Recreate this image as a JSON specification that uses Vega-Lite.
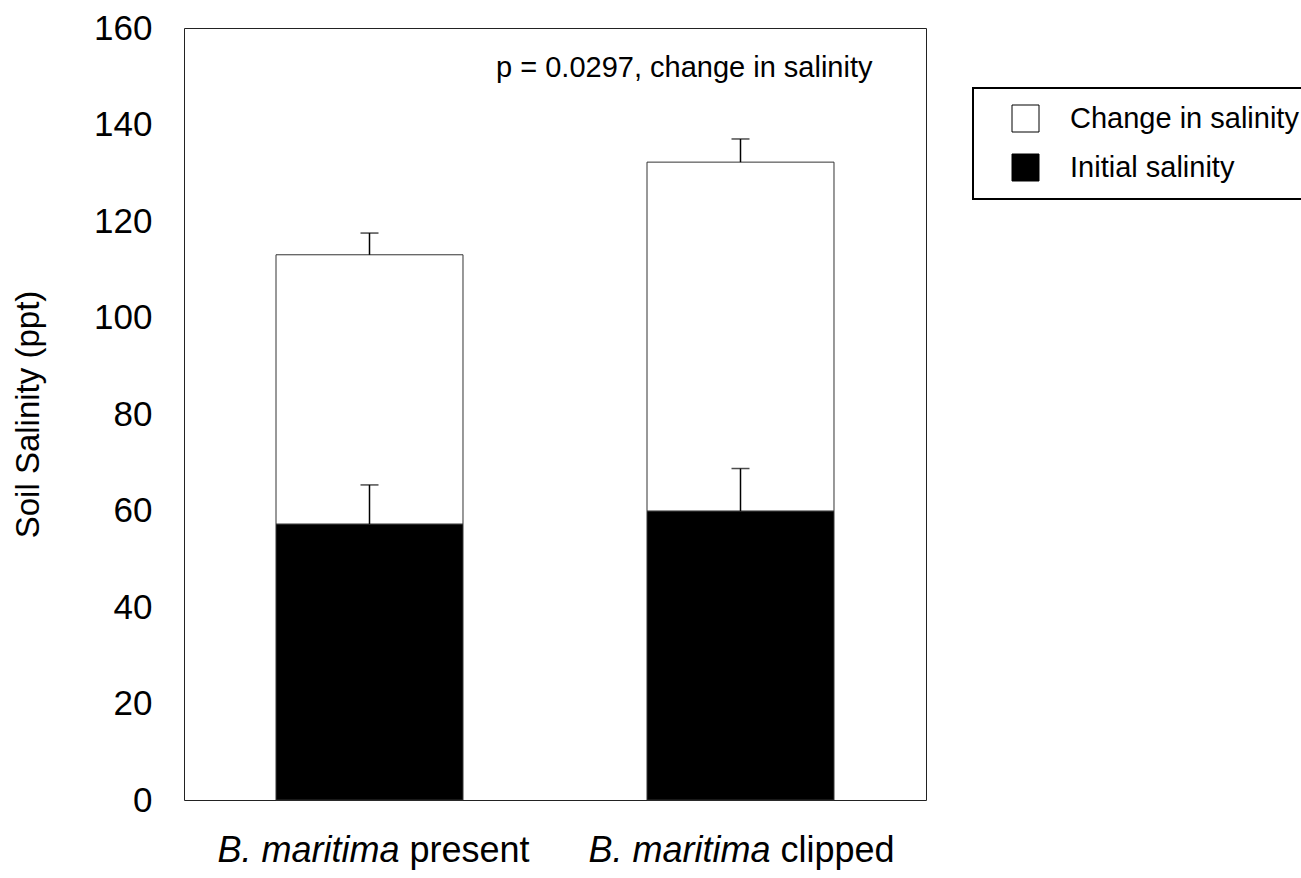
{
  "$schema": "https://vega.github.io/schema/vega-lite/v6.json",
  "width": 742,
  "height": 772,
  "autosize": {"type": "none"},
  "padding": {"left": 184, "top": 28, "right": 375, "bottom": 78},
  "background": "white",
  "config": {
    "font": "Liberation Sans",
    "view": {"stroke": "#222", "strokeWidth": 1},
    "legend": {
      "orient": "none",
      "legendX": 789,
      "legendY": 60,
      "strokeColor": "black",
      "strokeWidth": 2,
      "padding": 16,
      "symbolType": "square",
      "symbolSize": 729,
      "symbolOffset": 22,
      "symbolStrokeColor": "black",
      "symbolStrokeWidth": 1,
      "labelFontSize": 29,
      "labelColor": "black",
      "labelOffset": 30,
      "rowPadding": 18,
      "labelLimit": 400
    }
  },
  "datasets": {
    "bars": [
      {"treatment": "B. maritima present", "series": "Initial salinity", "value": 57.2},
      {"treatment": "B. maritima present", "series": "Change in salinity", "value": 55.8},
      {"treatment": "B. maritima clipped", "series": "Initial salinity", "value": 59.9},
      {"treatment": "B. maritima clipped", "series": "Change in salinity", "value": 72.3}
    ],
    "errors": [
      {"treatment": "B. maritima present", "low": 57.2, "high": 65.3},
      {"treatment": "B. maritima present", "low": 113.0, "high": 117.5},
      {"treatment": "B. maritima clipped", "low": 59.9, "high": 68.7},
      {"treatment": "B. maritima clipped", "low": 132.2, "high": 137.0}
    ],
    "labels": [
      {"treatment": "B. maritima present", "genus": "B. maritima", "state": "present"},
      {"treatment": "B. maritima clipped", "genus": "B. maritima", "state": "clipped"}
    ],
    "note": [
      {"treatment": "B. maritima clipped", "text": "p = 0.0297, change in salinity"}
    ]
  },
  "layer": [
    {
      "data": {"name": "bars"},
      "mark": {"type": "bar", "stroke": "#333", "strokeWidth": 1},
      "encoding": {
        "x": {
          "field": "treatment",
          "type": "nominal",
          "sort": ["B. maritima present", "B. maritima clipped"],
          "scale": {"type": "band", "paddingInner": 0.496, "paddingOuter": 0.248},
          "axis": null
        },
        "y": {
          "field": "value",
          "type": "quantitative",
          "stack": "zero",
          "scale": {"domain": [0, 160], "nice": false},
          "axis": {
            "title": "Soil Salinity (ppt)",
            "values": [0, 20, 40, 60, 80, 100, 120, 140, 160],
            "grid": false,
            "ticks": false,
            "domain": false,
            "labelFontSize": 35,
            "labelColor": "black",
            "labelPadding": 32,
            "titleFontSize": 33,
            "titleFontWeight": "normal",
            "titleColor": "black",
            "titlePadding": 48
          }
        },
        "color": {
          "field": "series",
          "type": "nominal",
          "scale": {"domain": ["Change in salinity", "Initial salinity"], "range": ["white", "black"]},
          "legend": {"title": null}
        },
        "order": {"field": "series", "sort": "descending"}
      }
    },
    {
      "data": {"name": "errors"},
      "mark": {"type": "rule", "color": "black", "strokeWidth": 1.5},
      "encoding": {
        "x": {"field": "treatment", "type": "nominal", "sort": ["B. maritima present", "B. maritima clipped"]},
        "y": {"field": "low", "type": "quantitative"},
        "y2": {"field": "high"}
      }
    },
    {
      "data": {"name": "errors"},
      "mark": {"type": "tick", "color": "black", "size": 18, "thickness": 1.5},
      "encoding": {
        "x": {"field": "treatment", "type": "nominal", "sort": ["B. maritima present", "B. maritima clipped"]},
        "y": {"field": "high", "type": "quantitative"}
      }
    },
    {
      "data": {"name": "labels"},
      "mark": {"type": "text", "align": "right", "baseline": "middle", "fontSize": 36, "fontStyle": "italic", "dx": 30, "color": "black"},
      "encoding": {
        "x": {"field": "treatment", "type": "nominal", "sort": ["B. maritima present", "B. maritima clipped"]},
        "y": {"datum": -10.5, "type": "quantitative"},
        "text": {"field": "genus"}
      }
    },
    {
      "data": {"name": "labels"},
      "mark": {"type": "text", "align": "left", "baseline": "middle", "fontSize": 36, "dx": 40, "color": "black"},
      "encoding": {
        "x": {"field": "treatment", "type": "nominal", "sort": ["B. maritima present", "B. maritima clipped"]},
        "y": {"datum": -10.5, "type": "quantitative"},
        "text": {"field": "state"}
      }
    },
    {
      "data": {"name": "note"},
      "mark": {"type": "text", "align": "right", "baseline": "middle", "fontSize": 29, "dx": 132, "color": "black"},
      "encoding": {
        "x": {"field": "treatment", "type": "nominal", "sort": ["B. maritima present", "B. maritima clipped"]},
        "y": {"datum": 151.7, "type": "quantitative"},
        "text": {"field": "text"}
      }
    }
  ]
}
